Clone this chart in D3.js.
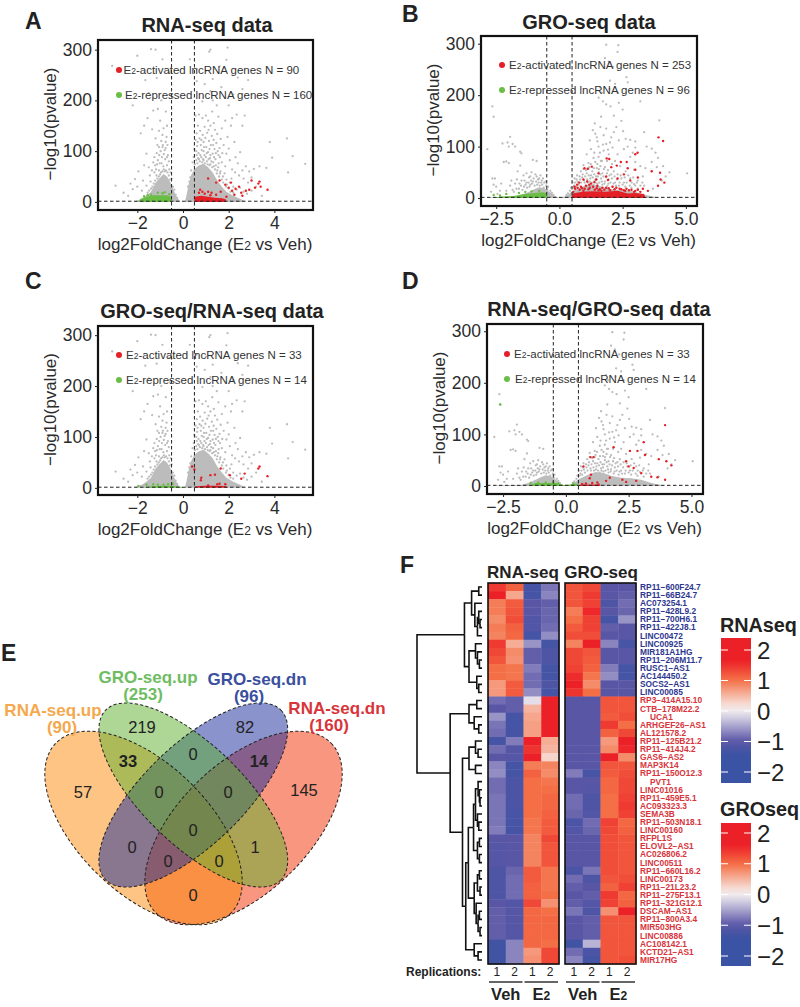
<!DOCTYPE html>
<html><head><meta charset="utf-8">
<script src="https://cdn.jsdelivr.net/npm/d3@7/dist/d3.min.js"></script>
<style>html,body{margin:0;padding:0;background:#fff}svg{display:block}text{font-family:"Liberation Sans",Arial,sans-serif}</style>
</head><body><svg id="c" width="800" height="1007"></svg>
<script>
// ---------- volcano data (log2FC, -log10 p) ----------
const rnaGreyPts=[[-1.4,301],[-1.2,300],[-2.0,288],[1.2,300],[1.95,304],[1.15,296],[-0.9,281],[-3.1,268],[0.3,281],[1.9,280],[0.6,262],[1.0,258],[1.3,242],[1.6,267],[2.4,245],[-1.15,244],[0.6,238],[1.2,218],[1.3,200],[2.2,212],[2.6,222],[2.85,240],[-2.2,190],[-1.5,215],[-1.3,180],[-1.1,183],[-0.75,178],[-0.95,200],[0.55,170],[0.7,172],[0.85,165],[1.0,170],[1.35,155],[1.55,168],[1.85,160],[2.15,165],[2.35,172],[2.6,150],[2.1,150],[1.7,145],[1.4,142],[1.2,150],[0.95,148],[0.75,140],[0.6,135],[-1.55,165],[-1.7,150],[-1.35,143],[-1.0,160],[-0.85,145],[-0.7,150],[-1.85,135],[-1.2,125],[3.8,118],[4.55,125],[3.9,87],[4.8,90],[5.35,75],[4.6,58],[3.35,70],[3.65,67],[3.1,65],[2.9,60],[3.0,48],[2.6,62],[2.3,88],[2.0,105],[1.9,95],[-2.95,32],[-2.1,45],[-2.6,18],[-2.4,12],[-2.2,25],[-1.95,60],[-1.7,72],[-1.6,95],[-1.45,52],[-1.3,78],[-1.15,96],[-1.05,108],[-0.95,120],[-0.88,112],[-0.8,102],[-0.72,128],[-0.66,92],[-0.92,88],[-0.78,84],[-1.02,76],[-1.18,64],[-0.86,70],[-0.7,72],[-0.6,64],[-1.42,40],[-1.6,32],[-1.8,22],[-1.25,58],[-1.05,62],[0.55,122],[0.62,110],[0.68,96],[0.72,125],[0.78,112],[0.82,102],[0.86,132],[0.9,118],[0.94,92],[0.98,126],[1.02,108],[1.06,136],[1.1,98],[1.14,120],[1.18,86],[1.22,112],[1.26,130],[1.3,95],[1.34,122],[1.38,104],[1.42,84],[1.46,116],[1.5,134],[1.55,92],[1.6,106],[1.65,124],[1.7,78],[1.78,112],[1.85,70],[1.95,128],[2.05,82],[2.15,64],[2.25,118],[2.4,76],[2.5,98],[2.65,46],[2.75,70],[2.85,38],[0.6,92],[0.7,84],[0.8,88],[0.9,82],[1.05,80],[1.2,74],[1.35,70],[1.5,62],[1.62,56],[1.75,50],[1.9,44],[2.05,38],[2.2,30],[2.35,24],[2.5,28],[2.65,20],[2.8,16],[3.0,22],[3.2,30],[3.45,12],[1.1,160],[1.28,178],[1.48,190],[0.85,198],[2.0,190],[2.7,170],[1.68,226],[0.95,232],[-0.6,255],[-1.65,240],[-0.55,210],[-1.05,140],[-0.9,132],[-0.76,118],[-1.12,112],[-0.98,100],[-1.25,88],[-1.5,68],[0.65,150],[0.92,108],[1.12,142],[1.32,112],[1.52,100],[1.72,96],[2.28,58],[2.45,52],[-2.3,36],[-2.0,30],[-1.75,42]];
const rnaGreyExtra=[[0.42,78],[0.47,88],[0.52,74],[0.58,82],[0.63,76],[0.66,86],[0.74,80],[0.76,92],[0.84,78],[0.88,84],[0.96,76],[1.0,88],[1.08,74],[1.12,84],[1.16,72],[1.24,80],[1.28,68],[1.32,78],[1.4,64],[1.44,72],[1.48,56],[1.54,68],[1.58,50],[1.64,60],[1.7,44],[1.76,38],[1.82,56],[1.88,30],[1.92,34],[2.0,26],[2.08,20],[2.12,46],[2.2,18],[0.36,62],[0.32,48],[0.28,40],[0.22,30],[0.5,104],[0.58,100],[0.64,118],[0.8,122],[0.9,100],[1.04,96],[1.16,104],[1.2,92],[1.36,88],[1.44,96],[1.56,76],[1.62,88],[-0.5,46],[-0.54,58],[-0.58,44],[-0.62,52],[-0.68,58],[-0.74,62],[-0.8,60],[-0.84,64],[-0.9,60],[-0.96,58],[-1.0,54],[-1.06,50],[-1.12,46],[-1.16,52],[-1.22,42],[-1.28,36],[-1.34,30],[-1.4,26],[-1.48,22],[-1.55,18],[-0.44,30],[-0.38,24],[-0.32,14],[-0.26,8],[-0.7,88],[-0.84,94],[-0.94,76],[-1.1,82],[-0.62,80],[-1.22,72],[-1.36,62],[-0.76,106],[-0.9,108],[-1.04,92],[-1.14,74],[-0.68,112]];
const groGreyPts=[[1.85,298],[2.33,297],[2.3,284],[1.8,272],[1.95,265],[2.12,255],[2.65,235],[2.7,225],[2.0,228],[2.2,222],[1.6,215],[1.98,212],[2.3,205],[1.68,205],[1.55,195],[1.72,188],[1.85,182],[2.02,178],[2.5,172],[2.35,185],[3.2,188],[-2.65,178],[-2.6,158],[3.95,151],[2.15,160],[2.45,150],[1.65,158],[1.4,145],[1.62,138],[1.85,135],[2.25,138],[2.52,130],[3.35,128],[1.42,125],[1.75,122],[2.05,118],[2.35,112],[2.62,115],[2.8,113],[3.0,110],[1.2,112],[1.5,110],[1.85,105],[1.55,100],[2.1,98],[3.0,98],[2.55,95],[1.25,95],[1.6,88],[1.95,85],[2.3,85],[3.45,100],[3.65,96],[3.8,88],[3.9,78],[1.08,85],[1.35,78],[1.68,72],[2.2,72],[2.8,80],[3.0,70],[3.65,70],[1.5,66],[1.8,60],[2.4,62],[1.15,68],[0.95,64],[2.62,52],[2.95,55],[3.4,58],[3.85,60],[4.35,50],[5.05,48],[4.1,62],[4.2,42],[3.3,42],[0.85,52],[1.05,54],[1.3,52],[1.55,50],[1.7,48],[2.05,46],[2.3,46],[0.7,44],[1.25,44],[1.45,42],[1.65,38],[1.95,36],[2.45,38],[2.8,38],[3.1,34],[0.6,38],[0.9,40],[1.1,36],[1.4,34],[1.8,32],[2.2,30],[2.55,30],[2.95,27],[3.35,24],[3.7,18],[-1.95,119],[-2.05,108],[-2.25,106],[-1.85,105],[-2.0,100],[-1.75,100],[-2.85,95],[-1.55,90],[-1.5,87],[-2.1,71],[-2.2,70],[-2.0,68],[-1.05,74],[-0.9,72],[-1.55,63],[-1.65,52],[-1.3,48],[-1.1,50],[-1.2,40],[-0.95,46],[-0.75,44],[-0.65,38],[-0.85,36],[-1.05,32],[-1.3,30],[-1.5,34],[-1.75,28],[-1.95,24],[-2.55,38],[-2.65,38],[-2.6,26],[-2.5,22],[-2.35,14],[-2.1,14],[-1.85,16],[-0.55,32],[-0.6,30],[-1.4,22],[-1.15,26],[-1.6,18],[-0.45,22],[0.52,30],[0.58,24],[0.72,32],[0.82,36],[1.0,30],[1.2,32],[1.35,26],[1.5,28],[1.7,26],[1.9,24],[2.1,22],[2.35,24],[2.6,22],[2.85,20],[3.1,18],[1.15,56],[1.48,58],[1.62,62],[1.92,54],[2.15,52],[1.42,70],[1.55,80],[1.75,92],[2.0,108],[2.15,128],[1.32,132],[1.48,118],[2.7,100],[2.9,88],[3.2,62],[4.05,34]];
const groGreyExtra=[[0.62,30],[0.68,36],[0.76,26],[0.8,42],[0.86,30],[0.92,46],[0.98,34],[1.02,42],[1.08,48],[1.12,30],[1.16,44],[1.22,38],[1.28,30],[1.32,40],[1.38,46],[1.42,30],[1.48,36],[1.52,42],[1.58,30],[1.62,46],[1.68,32],[1.74,42],[1.78,28],[1.84,40],[1.88,48],[1.94,28],[1.98,44],[2.02,30],[2.08,38],[2.14,28],[2.18,42],[2.24,24],[2.28,36],[2.38,30],[2.42,44],[2.5,26],[2.58,40],[2.66,30],[2.72,44],[2.78,24],[2.86,30],[2.92,40],[3.0,24],[3.06,30],[3.2,24],[3.28,30],[0.55,20],[0.65,22],[0.95,56],[1.18,60],[1.36,58],[1.56,56],[1.76,56],[1.24,66],[1.64,72],[1.88,72],[2.08,66],[1.38,88],[1.72,104],[1.92,94],[-0.48,16],[-0.52,24],[-0.62,20],[-0.68,26],[-0.72,30],[-0.78,24],[-0.82,30],[-0.88,26],[-0.92,32],[-0.98,24],[-1.02,38],[-1.08,28],[-1.12,34],[-1.18,22],[-1.22,30],[-1.28,20],[-1.34,26],[-1.38,34],[-1.46,16],[-1.52,24],[-1.58,28],[-1.7,18],[-1.8,12],[-0.8,38],[-0.7,34],[-0.9,42],[-1.15,42],[-1.42,44],[-1.68,36],[-1.9,34],[-2.3,28],[-2.7,12],[-2.45,8],[-0.36,14],[-0.3,10],[-0.24,6],[0.28,6],[0.34,9],[0.42,14],[0.46,20]];
const rnaEnvelope=[[-2.1,1],[-1.8,6],[-1.6,12],[-1.4,20],[-1.2,38],[-1.0,48],[-0.85,55],[-0.7,50],[-0.55,38],[-0.4,22],[-0.3,12],[-0.2,5],[-0.1,0],[0.08,0],[0.15,12],[0.25,35],[0.35,52],[0.5,65],[0.7,72],[0.9,75],[1.1,68],[1.3,58],[1.5,42],[1.7,30],[1.9,20],[2.2,12],[2.5,6],[2.7,1]];
const groEnvelope=[[-2.8,1],[-1.8,2],[-1.5,6],[-1.2,12],[-1.0,17],[-0.8,21],[-0.6,19],[-0.4,12],[-0.2,5],[-0.05,1],[0.05,1],[0.2,3],[0.35,7],[0.5,13],[0.8,20],[1.0,24],[1.2,27],[1.5,25],[1.8,20],[2.2,16],[2.6,15],[3.0,12],[3.4,6],[3.8,2]];
const aRedBand=[[0.5,0],[0.52,10],[0.8,12],[1.1,10],[1.4,8],[1.7,7],[1.87,5],[1.9,0]];
const aGreenBand=[[-1.95,0],[-1.85,6],[-1.6,10],[-1.3,13],[-1.0,13],[-0.7,13],[-0.5,10],[-0.48,0]];
const bRedBand=[[0.48,0],[0.52,9],[0.9,12],[1.3,13],[1.8,12],[2.3,14],[2.7,9],[3.0,10],[3.35,8],[3.4,0]];
const bGreenBand=[[-2.7,0],[-2.3,3],[-1.8,4],[-1.4,8],[-1.0,10],[-0.7,11],[-0.5,10],[-0.48,0]];
const cRedBand=[[0.5,0],[0.55,3],[1.0,4],[1.6,4],[1.9,3],[1.95,0]];
const cGreenBand=[[-1.75,0],[-1.4,3],[-0.9,4],[-0.5,4],[-0.1,2],[0.1,0]];
const dRedBand=[[0.5,0],[0.6,3],[1.3,3],[1.4,0]];
const dGreenBand=[[-1.5,0],[-1.2,6],[-0.8,6],[-0.4,6],[-0.1,2],[0.2,3],[0.45,5],[0.5,0]];
const aRedPts=[[0.75,24],[0.85,20],[0.7,18],[0.95,16],[1.1,20],[1.25,18],[1.45,14],[1.2,13],[1.65,20],[1.9,10],[1.6,42],[1.45,38],[1.1,46],[2.1,38],[2.0,28],[1.85,34],[2.15,22],[2.3,26],[2.25,14],[2.45,30],[2.55,18],[2.6,12],[2.75,22],[2.9,24],[3.0,42],[3.35,40],[3.4,30],[3.3,36],[3.7,24],[3.15,28]];
const aGreenPts=[[-1.1,18],[-0.9,17],[-1.4,14],[-0.6,15],[-0.8,19],[-1.7,11],[-1.55,13]];
const bRedPts=[[3.92,118],[4.1,111],[3.09,88],[3.0,85],[1.87,77],[1.97,76],[2.66,70],[2.43,70],[2.27,63],[0.99,58],[1.28,61],[1.12,57],[2.05,60],[2.7,58],[3.0,55],[3.65,52],[3.98,49],[3.1,40],[2.55,46],[1.85,42],[2.3,38],[1.45,36],[1.55,48],[1.92,35],[4.0,36],[4.15,30],[3.9,24],[2.8,34],[0.95,36],[1.1,32],[0.7,26],[0.85,22],[1.05,24],[1.25,28],[1.5,24],[1.7,20],[0.62,18],[0.8,16],[1.0,18],[1.2,20],[1.4,16],[1.6,17],[1.85,20],[2.1,22],[2.25,20],[2.45,17],[2.65,18],[2.85,16],[3.1,16],[3.3,18],[3.5,14],[0.55,12],[0.95,14],[1.55,15],[2.0,15],[2.6,14],[3.0,14],[0.6,22],[0.72,20],[0.9,19],[1.15,17],[1.33,22],[1.48,19],[1.66,14],[1.78,16],[1.95,19],[2.18,17],[2.38,18],[2.55,15],[2.75,15],[2.95,12],[3.2,12],[1.18,26],[1.38,31],[0.78,30]];
const bGreenPts=[[-2.6,6],[-2.35,5],[-2.1,8],[-1.6,10],[-1.35,12],[-1.1,13],[-0.8,14]];
const cRedPts=[[0.4,42],[0.5,36],[0.8,20],[0.78,15],[1.2,25],[1.4,26],[1.65,38],[2.05,25],[2.55,18],[2.7,28],[3.35,42],[3.3,38],[3.7,23],[1.1,5],[1.5,7],[1.6,8],[1.85,7]];
const cGreenPts=[[-1.6,6],[-1.3,7],[-1.1,6],[-0.65,7],[-0.45,8],[-0.85,6],[-1.95,4]];
const dRedPts=[[0.7,38],[1.1,56],[0.98,56],[1.9,75],[2.55,68],[2.85,68],[3.1,85],[3.15,60],[3.95,118],[3.7,52],[4.0,48],[4.2,40],[3.0,25],[3.4,18],[3.65,17],[3.95,12],[2.4,48],[2.5,38],[2.7,35],[1.0,22],[0.95,15],[1.6,10],[1.75,16],[2.25,12],[2.4,8],[2.8,10],[1.05,6],[1.25,7],[0.8,5],[0.65,4],[1.3,3]];
const dGreenPts=[[-2.62,158],[-1.4,6],[-1.1,7],[-0.8,7],[-0.5,8],[-0.3,5],[0.3,5]];
// ---------- heatmap ----------
const geneNames=["RP11−600F24.7","RP11−66B24.7","AC073254.1","RP11−428L9.2","RP11−700H6.1","RP11−422J8.1","LINC00472","LINC00925","MIR181A1HG","RP11−206M11.7","RUSC1−AS1","AC144450.2","SOCS2−AS1","LINC00085","RP3−414A15.10","CTB−178M22.2","UCA1","ARHGEF26−AS1","AL121578.2","RP11−125B21.2","RP11−414J4.2","GAS6−AS2","MAP3K14","RP11−150O12.3","PVT1","LINC01016","RP11−459E5.1","AC093323.3","SEMA3B","RP11−503N18.1","LINC00160","RFPL1S","ELOVL2−AS1","AC026806.2","LINC00511","RP11−660L16.2","LINC00173","RP11−21L23.2","RP11−275F13.1","RP11−321G12.1","DSCAM−AS1","RP11−800A3.4","MIR503HG","LINC00886","AC108142.1","KCTD21−AS1","MIR17HG"];
const indentedGenes=["UCA1","PVT1"];
const blueGeneCount=14;
const rnaMatrix=[[1.4,1.1,-1.3,-.8],[1.8,.6,-1.3,-.7],[.9,1.15,-1,-.95],[.9,1.2,-1,-.9],[.8,1.25,-1.1,-.9],[.9,1.1,-1.1,-.85],[.85,1.05,-1.3,-.65],[1.4,.55,-.6,-1.3],[1.3,.8,-.95,-1.15],[1.2,.75,-.95,-1.15],[1,.95,-.75,-1.3],[1,.95,-.85,-1.3],[.7,1.15,-.85,-1.15],[.7,1.15,-.65,-1.3],[-.85,-.95,-.1,1.75],[-1,-.95,.5,1.65],[-.6,-1.3,.6,1.6],[-.8,-1.3,.65,1.6],[-.85,-1.3,.65,1.6],[-1.3,-.75,1.6,.55],[-.85,-1.05,1.45,.5],[-1,-1.05,1.6,.25],[-.7,-1.3,.9,.85],[-.65,-1.3,1.1,.8],[-.85,-1.2,1,.95],[-.85,-1.2,1,1],[-.8,-1.2,1,1.05],[-.8,-1.2,1,1.05],[-.8,-1.25,1,1.1],[-.8,-1.25,.95,1.15],[-.75,-1.3,.95,1.15],[-1,-1,.85,1.3],[-1.05,-1,.85,1.2],[-1.05,-1,.85,1.2],[-1.05,-1,.85,1.2],[-1.15,-.9,1.15,.95],[-1.15,-.85,1.15,.95],[-1.15,-.85,1.1,.95],[-1.15,-.85,1.1,1],[-1,-1.1,1.3,.75],[-.95,-1.05,1.05,1],[-.95,-1.05,1.05,1.05],[-.95,-1.05,1.05,1.05],[-.95,-1.05,1.05,1.05],[-1.35,-.7,1.05,1],[-1.35,-.7,.7,1.3],[-1.35,-.7,.75,1.3]];
const groMatrix=[[1.2,1.3,-1,-1],[1.2,1.4,-1,-.95],[1.2,1.35,-1.15,-.85],[.9,1.55,-1,-.9],[1,1.35,-1.3,-.6],[1.15,1.35,-.95,-1],[1.25,1.25,-1,-1],[.85,1.6,-.7,-1.25],[1.3,1.2,-1,-1],[1.3,1.15,-1,-1],[1.35,1.1,-.75,-1.3],[1.5,.95,-.65,-1.3],[1.7,.8,-1,-1],[1.45,1,-1,-1],[-1,-1,1.2,1.2],[-1,-1,1.2,1.2],[-1,-1,1.15,1.25],[-1,-1,1.4,1],[-1,-1,1.1,1.3],[-1,-1,.7,1.7],[-1,-1,.8,1.55],[-1,-1,1.6,.8],[-1,-1,1.2,1.2],[-.75,-1.25,1.15,1.25],[-1,-1,1.05,1.3],[-1,-1.05,1.05,1.3],[-.85,-1.15,1,1.35],[-.85,-1.15,1,1.4],[-.9,-1.1,1,1.35],[-1.2,-.85,1.35,1.05],[-1.1,-.9,1.3,1.1],[-1,-1,1.25,1.2],[-1,-1,1.25,1.2],[-1,-1,1.25,1.2],[-1,-1,1.25,1.2],[-1.2,-.8,1.25,1.2],[-.85,-1.15,1.2,1.25],[-.95,-1,1.1,1.35],[-1,-.95,1.4,1.05],[-.95,-1.05,1.35,1.1],[-.8,-1.15,.75,1.7],[-1,-.95,1.2,1.2],[-1,-.95,1.2,1.2],[-1,-.95,1.2,1.2],[-1.35,-.4,1.2,1.2],[-.85,-1.2,1.2,1.2],[-.7,-1.3,1.2,1.25]];
const colLabels=["1","2","1","2"];
const colorStops=[-2.4,-1.45,-1,-0.3,0.05,1,1.6,2.4];
const colorRange=["#3a53a4","#3a53a4","#5a56a6","#c9c3de","#f6f2f0","#f46f45","#ec2027","#ec2027"];
const legendTicks=[2,1,0,-1,-2];
// dendrogram: [mergeHeight, childA, childB]; 0 = leaf
const blueTree=[.27,[.16,[.05,0,0],[.11,0,[.07,[.05,0,[.03,0,0]],0]]],[.2,[.1,0,[.07,0,[.04,0,0]]],[.08,0,[.05,0,0]]]];
const g25=[.1,[.06,0,[.04,0,[.03,0,0]]],[.07,0,[.05,0,0]]],g32=[.07,[.04,0,0],[.04,0,0]],g36=[.07,[.04,0,0],[.03,0,0]],g40=[.09,0,[.06,[.04,0,0],[.03,0,0]]],g45=[.12,0,[.06,0,0]];
const redTree=[.49,[.2,[.08,0,0],[.12,0,[.05,0,0]]],[.3,[.2,[.1,0,[.06,0,0]],[.1,0,0]],[.25,[.21,[.13,g25,g32],[.12,g36,g40]],g45]]];
const rowTree=[1,blueTree,redTree];
// ---------- venn ----------
const vennSetNames=["RNA-seq.up","RNA-seq.dn","GRO-seq.up","GRO-seq.dn"];
const vennSetSizes=[90,160,253,96];
const vennCounts=["57","219","82","33","0","14","145","0","0","0","0","1","0","0","0"];
const vennBold=["33","14"];

// ---------- layout ----------
const svg=d3.select("#c");
const panels=[
 {letter:"A",lx:25,ly:29,title:"RNA-seq data",tx:207,ty:32,f:[98,313,40,210],xd:[-3.72,5.69],yd:[-16,319],xt:[-2,0,2,4],fmt:d3.format("d"),grey:rnaGreyPts.concat(rnaGreyExtra),env:rnaEnvelope,rb:aRedBand,gb:aGreenBand,rp:aRedPts,gp:aGreenPts,
  leg:[[119,70,123.5,"E2-activated lncRNA genes N = 90"],[119,95,125,"E2-repressed lncRNA genes N = 160"]]},
 {letter:"B",lx:402,ly:22,title:"GRO-seq data",tx:589,ty:29,f:[481,697,36,206],xd:[-3.1,5.44],yd:[-15.5,315],xt:[-2.5,0,2.5,5],fmt:d3.format(".1f"),grey:groGreyPts.concat(groGreyExtra),env:groEnvelope,rb:bRedBand,gb:bGreenBand,rp:bRedPts,gp:bGreenPts,
  leg:[[502,65,509,"E2-activated lncRNA genes N = 253"],[502,90,509,"E2-repressed lncRNA genes N = 96"]]},
 {letter:"C",lx:25,ly:289,title:"GRO-seq/RNA-seq data",tx:212,ty:318,f:[98,313,326,495],xd:[-3.72,5.69],yd:[-14,318],xt:[-2,0,2,4],fmt:d3.format("d"),grey:rnaGreyPts.concat(rnaGreyExtra),env:rnaEnvelope,rb:cRedBand,gb:cGreenBand,rp:cRedPts,gp:cGreenPts,
  leg:[[119,355,126,"E2-activated lncRNA genes N = 33"],[119,380,126,"E2-repressed lncRNA genes N = 14"]]},
 {letter:"D",lx:402,ly:289,title:"RNA-seq/GRO-seq data",tx:599,ty:316,f:[487,703,324,494],xd:[-3.14,5.46],yd:[-15.5,314],xt:[-2.5,0,2.5,5],fmt:d3.format(".1f"),grey:groGreyPts.concat(groGreyExtra),env:groEnvelope,rb:dRedBand,gb:dGreenBand,rp:dRedPts,gp:dGreenPts,
  leg:[[507,354,514,"E2-activated lncRNA genes N = 33"],[507,379,515,"E2-repressed lncRNA genes N = 14"]]}
];
const RED="#e41f26",GREEN="#6abd45",GREY="#bcbcbc",TXT="#2b2b2b";
function subE2(sel,str,size){
  const parts=str.split("E2");
  sel.text(null);
  parts.forEach((p,i)=>{ if(i>0){sel.append("tspan").text("E");sel.append("tspan").attr("font-size",size).text("2");} if(p) sel.append("tspan").text(p);});
}
panels.forEach(p=>{
  const [l,r,t,b]=p.f;
  const x=d3.scaleLinear().domain(p.xd).range([l,r]);
  const y=d3.scaleLinear().domain(p.yd).range([b,t]);
  const g=svg.append("g");
  svg.append("text").attr("x",p.lx).attr("y",p.ly).attr("font-size",23).attr("font-weight","bold").attr("fill","#222").text(p.letter);
  svg.append("text").attr("x",p.tx).attr("y",p.ty).attr("text-anchor","middle").attr("font-size",20).attr("font-weight","bold").attr("fill","#222").text(p.title);
  const area=d3.area().x(d=>x(d[0])).y0(y(0)).y1(d=>y(d[1])).curve(d3.curveLinear);
  g.append("path").attr("d",area(p.env)).attr("fill",GREY);
  g.selectAll(null).data(p.grey).join("circle").attr("cx",d=>x(d[0])).attr("cy",d=>y(d[1])).attr("r",1.15).attr("fill",GREY);
  g.append("path").attr("d",area(p.gb)).attr("fill",GREEN);
  g.append("path").attr("d",area(p.rb)).attr("fill",RED);
  g.selectAll(null).data(p.gp).join("circle").attr("cx",d=>x(d[0])).attr("cy",d=>y(d[1])).attr("r",1.2).attr("fill",GREEN);
  g.selectAll(null).data(p.rp).join("circle").attr("cx",d=>x(d[0])).attr("cy",d=>y(d[1])).attr("r",1.2).attr("fill",RED);
  [-0.5,0.5].forEach(v=>g.append("line").attr("x1",x(v)).attr("x2",x(v)).attr("y1",t).attr("y2",b).attr("stroke","#222").attr("stroke-width",1).attr("stroke-dasharray","3.5,2.5"));
  g.append("line").attr("x1",l).attr("x2",r).attr("y1",y(1.3)).attr("y2",y(1.3)).attr("stroke","#222").attr("stroke-width",1).attr("stroke-dasharray","3.5,2.5");
  p.leg.forEach((e,i)=>{
    g.append("circle").attr("cx",e[0]).attr("cy",e[1]).attr("r",3).attr("fill",i?GREEN:RED);
    const tx=g.append("text").attr("x",e[2]).attr("y",e[1]+4).attr("font-size",11.5).attr("fill","#333");
    subE2(tx,e[3],8.5);
  });
  g.append("rect").attr("x",l).attr("y",t).attr("width",r-l).attr("height",b-t).attr("fill","none").attr("stroke","#111").attr("stroke-width",2.2);
  const ax=g.append("g").attr("transform",`translate(0,${b})`).call(d3.axisBottom(x).tickValues(p.xt).tickFormat(p.fmt).tickSize(3).tickPadding(4));
  const ay=g.append("g").attr("transform",`translate(${l},0)`).call(d3.axisLeft(y).tickValues([0,100,200,300]).tickSize(3).tickPadding(3));
  [ax,ay].forEach(a=>{a.select(".domain").remove();a.selectAll("text").attr("font-size",17.5).attr("font-family","'Liberation Sans',Arial,sans-serif").attr("fill",TXT);a.selectAll("line").attr("stroke","#222");});
  const xl=g.append("text").attr("x",(l+r)/2-.5).attr("y",b+40).attr("text-anchor","middle").attr("font-size",17).attr("fill",TXT);
  subE2(xl,"log2FoldChange (E2 vs Veh)",12);
  g.append("text").attr("transform",`translate(${l-42},${(t+b)/2-1}) rotate(-90)`).attr("text-anchor","middle").attr("font-size",17).attr("fill",TXT).text("−log10(pvalue)");
});

// ---------- venn ----------
const venn=svg.append("g");
const vennShapes=[
 {cx:243.5,cy:828,a:122,b:65,rot:-44,fill:"#f32d00"},
 {cx:143.5,cy:828,a:122,b:65,rot:44,fill:"#fb8909"},
 {cx:193.3,cy:795,a:122,b:50,rot:-44,fill:"#152799"},
 {cx:193.3,cy:795,a:122,b:50,rot:44,fill:"#5daf2d"}];
vennShapes.forEach(s=>venn.append("ellipse").attr("transform",`translate(${s.cx},${s.cy}) rotate(${s.rot})`).attr("rx",s.a).attr("ry",s.b).attr("fill",s.fill).attr("fill-opacity",.5));
vennShapes.forEach(s=>venn.append("ellipse").attr("transform",`translate(${s.cx},${s.cy}) rotate(${s.rot})`).attr("rx",s.a).attr("ry",s.b).attr("fill","none").attr("stroke","#222").attr("stroke-width",1).attr("stroke-dasharray","3.2,2.2"));
const vennPos=[[83,792],[142,727],[245,727],[128,761],[193,754],[259,761],[304,790],[159,792],[228,792],[193,830],[132,847],[255,847],[168,861],[219,861],[193,895]];
vennCounts.forEach((c,i)=>venn.append("text").attr("x",vennPos[i][0]).attr("y",vennPos[i][1]+6).attr("text-anchor","middle").attr("font-size",16.5).attr("fill","#222").attr("font-weight",vennBold.includes(c)?"bold":"normal").text(c));
const vennLabelPos=[[53,716,62,733,"#f4a94e"],[337,714,329,731,"#d8353b"],[148,683,143,700,"#6fbd62"],[257,685,249,702,"#3a4f9e"]];
vennSetNames.forEach((n,i)=>{const q=vennLabelPos[i];
  venn.append("text").attr("x",q[0]).attr("y",q[1]).attr("text-anchor","middle").attr("font-size",17).attr("font-weight","bold").attr("fill",q[4]).text(n);
  venn.append("text").attr("x",q[2]).attr("y",q[3]).attr("text-anchor","middle").attr("font-size",17).attr("font-weight","bold").attr("fill",q[4]).text(`(${vennSetSizes[i]})`);
});
svg.append("text").attr("x",1).attr("y",661).attr("font-size",23).attr("font-weight","bold").attr("fill","#222").text("E");

// ---------- heatmap ----------
svg.append("text").attr("x",400).attr("y",573).attr("font-size",23).attr("font-weight","bold").attr("fill","#222").text("F");
const color=d3.scaleLinear().domain(colorStops).range(colorRange);
const rowY=d3.scaleBand().domain(d3.range(geneNames.length)).range([583,964]);
const hm=svg.append("g");
[{m:rnaMatrix,l:488,r:559,t:"RNA-seq",tc:523},{m:groMatrix,l:565,r:636,t:"GRO-seq",tc:601}].forEach(h=>{
  const cx=d3.scaleBand().domain(d3.range(4)).range([h.l,h.r]);
  h.m.forEach((row,i)=>hm.selectAll(null).data(row).join("rect").attr("x",(d,j)=>cx(j)).attr("y",rowY(i)).attr("width",cx.bandwidth()+.4).attr("height",rowY.bandwidth()+.4).attr("fill",d=>color(d)));
  hm.append("rect").attr("x",h.l).attr("y",583).attr("width",h.r-h.l).attr("height",381).attr("fill","none").attr("stroke","#111").attr("stroke-width",1.6);
  hm.append("text").attr("x",h.tc).attr("y",578).attr("text-anchor","middle").attr("font-size",17).attr("font-weight","bold").attr("fill","#222").text(h.t);
  colLabels.forEach((c,j)=>hm.append("text").attr("x",cx(j)+cx.bandwidth()/2).attr("y",976).attr("text-anchor","middle").attr("font-size",12).attr("fill","#222").text(c));
  [[0,1,"Veh"],[2,3,"E2"]].forEach(([a,b,lab])=>{
    hm.append("line").attr("x1",cx(a)+1).attr("x2",cx(b)+cx.bandwidth()-1).attr("y1",982).attr("y2",982).attr("stroke","#333").attr("stroke-width",1.6);
    const tt=hm.append("text").attr("x",(cx(a)+cx(b)+cx.bandwidth())/2).attr("y",1000).attr("text-anchor","middle").attr("font-size",16.5).attr("font-weight","bold").attr("fill","#222");
    subE2(tt,lab,12);
  });
});
hm.append("text").attr("x",406).attr("y",976).attr("font-size",12).attr("font-weight","bold").attr("fill","#222").text("Replications:");
geneNames.forEach((n,i)=>hm.append("text").attr("x",indentedGenes.includes(n)?650:640).attr("y",rowY(i)+rowY.bandwidth()/2+2.9).attr("font-size",8.4).attr("font-weight","bold").attr("fill",i<blueGeneCount?"#2e3790":"#d7343c").text(n));
// dendrogram
const root=d3.hierarchy(rowTree,d=>Array.isArray(d)?d.slice(1):null);
let leafI=0;
const hx=d3.scaleLinear().domain([0,1]).range([482,417]);
root.eachAfter(n=>{
  if(!n.children){n.py=rowY(leafI)+rowY.bandwidth()/2;n.px=hx(0);leafI++;}
  else{n.py=d3.mean(n.children,c=>c.py);n.px=hx(n.data[0]);}
});
const dg=svg.append("g").attr("fill","none").attr("stroke","#111").attr("stroke-width",1.6);
root.each(n=>{ if(n.children) n.children.forEach(c=>dg.append("path").attr("d",`M${n.px},${n.py}V${c.py}H${c.px}`)); });
// colour keys
const defs=svg.append("defs");
const grad=defs.append("linearGradient").attr("id","cg").attr("x1",0).attr("x2",0).attr("y1",0).attr("y2",1);
d3.range(0,1.001,.05).forEach(f=>grad.append("stop").attr("offset",f).attr("stop-color",color(2.35-f*4.7)));
[{title:"RNAseq",ty:632,t:638,b:783,y2:650,yn2:772},{title:"GROseq",ty:816,t:823,b:966,y2:833,yn2:956}].forEach(k=>{
  const y=d3.scaleLinear().domain([2,-2]).range([k.y2,k.yn2]);
  svg.append("text").attr("x",720).attr("y",k.ty).attr("font-size",19.8).attr("font-weight","bold").attr("fill","#222").text(k.title);
  svg.append("rect").attr("x",721).attr("y",k.t).attr("width",30).attr("height",k.b-k.t).attr("fill","url(#cg)");
  legendTicks.forEach(v=>{
    svg.append("line").attr("x1",721).attr("x2",728).attr("y1",y(v)).attr("y2",y(v)).attr("stroke","#fff").attr("stroke-width",1);
    svg.append("line").attr("x1",744).attr("x2",751).attr("y1",y(v)).attr("y2",y(v)).attr("stroke","#fff").attr("stroke-width",1);
    svg.append("text").attr("x",757).attr("y",y(v)+8.5).attr("font-size",24).attr("fill","#222").text(v<0?"−"+(-v):v);
  });
});
</script></body></html>
